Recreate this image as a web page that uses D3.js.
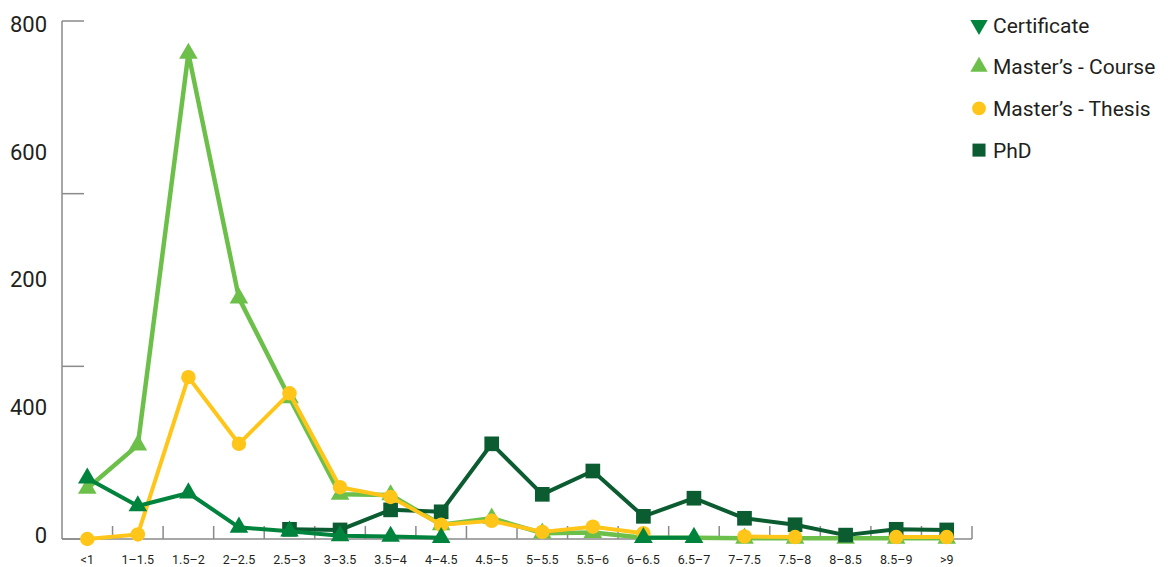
<!DOCTYPE html>
<html>
  <head>
    <meta charset="utf-8">
    <script src="https://d3js.org/d3.v7.min.js"></script>
    <style>
      body { margin: 0; background: #fff; font-family: Roboto, sans-serif; }
      .axis line, .axis path { stroke: #8a8a8a; stroke-width: 1.5px; fill: none; }
      text { fill: #231f20; }
    </style>
  </head>
  <body>
    <div id="chart"></div>
    <script>
      // categories (years)
      var categories = ["<1", "1\u20131.5", "1.5\u20132", "2\u20132.5", "2.5\u20133", "3\u20133.5", "3.5\u20134", "4\u20134.5",
        "4.5\u20135", "5\u20135.5", "5.5\u20136", "6\u20136.5", "6.5\u20137", "7\u20137.5", "7.5\u20138", "8\u20138.5", "8.5\u20139", ">9"];

      var certificate = [94, 51, 71, 18, 12, 5, 4, 2, null, null, null, 2, 2, null, null, null, null, null];
      var mastersCourse = [78, 145, 750, 372, 218, 69, 68, 22, 32, 9, 10, 2, 2, 1, 1, 1, 1, 1];
      var mastersThesis = [0, 7, 250, 147, 225, 80, 65, 22, 28, 11, 19, 9, null, 4, 3, null, 3, 3];
      var phd = [null, null, null, null, 15, 14, 45, 42, 147, 69, 105, 35, 63, 32, 22, 6, 15, 14];

      var yLabelValues = [800, 600, 400, 200, 0];
      var yLabelText = ["800", "600", "200", "400", "0"];
      var yTickValues = [0, 800 / 3, 1600 / 3, 800];

      var series = [
        { name: "Master\u2019s - Course", values: mastersCourse, color: "#6cc04a", shape: d3.symbolTriangle, width: 4.5 },
        { name: "PhD", values: phd, color: "#0b5c30", shape: d3.symbolSquare, width: 4 },
        { name: "Master\u2019s - Thesis", values: mastersThesis, color: "#ffc519", shape: d3.symbolCircle, width: 4 },
        { name: "Certificate", values: certificate, color: "#00843d", shape: d3.symbolTriangle, width: 4 }
      ];
      var legendItems = [
        { name: "Certificate", color: "#00843d", shape: d3.symbolTriangle, flip: true },
        { name: "Master\u2019s - Course", color: "#6cc04a", shape: d3.symbolTriangle },
        { name: "Master\u2019s - Thesis", color: "#ffc519", shape: d3.symbolCircle },
        { name: "PhD", color: "#0b5c30", shape: d3.symbolSquare }
      ];

      var W = 1168, H = 567;
      var svg = d3.select("#chart").append("svg").attr("width", W).attr("height", H);

      var x = d3.scaleBand().domain(categories).range([62, 972]).padding(0);
      var y = d3.scaleLinear().domain([0, 800]).range([539, 21]);
      // the printed labels sit on their own, slightly tighter spacing
      var yLab = d3.scaleLinear().domain([0, 800]).range([535, 24]);

      // y axis line + inward ticks
      var yAxis = svg.append("g").attr("class", "axis");
      yAxis.append("line").attr("x1", 62).attr("x2", 62).attr("y1", y(800)).attr("y2", y(0));
      yAxis.selectAll(".yt").data(yTickValues).enter().append("line")
        .attr("x1", 62).attr("x2", 84).attr("y1", d => y(d)).attr("y2", d => y(d));
      svg.selectAll(".ylab").data(yLabelValues).enter().append("text")
        .attr("x", 47).attr("y", d => yLab(d)).attr("dy", "0.36em")
        .attr("text-anchor", "end").style("font-size", "22px")
        .text((d, i) => yLabelText[i]);

      // x axis line + ticks at band boundaries
      var xAxis = svg.append("g").attr("class", "axis");
      xAxis.append("line").attr("x1", 62).attr("x2", 972).attr("y1", y(0)).attr("y2", y(0));
      xAxis.selectAll(".xt").data(categories).enter().append("line")
        .attr("x1", d => x(d) + x.bandwidth()).attr("x2", d => x(d) + x.bandwidth())
        .attr("y1", y(0)).attr("y2", y(0) - 13);
      svg.selectAll(".xlab").data(categories).enter().append("text")
        .attr("x", d => x(d) + x.bandwidth() / 2).attr("y", 559)
        .attr("dy", "0.36em")
        .attr("text-anchor", "middle").style("font-size", "12.5px")
        .text(d => d);

      var line = d3.line()
        .defined(d => d.v !== null)
        .x(d => x(d.c) + x.bandwidth() / 2)
        .y(d => y(d.v));

      series.forEach(function(s) {
        var pts = categories.map((c, i) => ({ c: c, v: s.values[i] }));
        var g = svg.append("g");
        g.append("path").attr("d", line(pts))
          .attr("fill", "none").attr("stroke", s.color).attr("stroke-width", s.width)
          .attr("stroke-linejoin", "round");
        var size = s.shape === d3.symbolCircle ? 165 : (s.shape === d3.symbolSquare ? 215 : 150);
        g.selectAll("path.m").data(pts.filter(d => d.v !== null)).enter().append("path")
          .attr("class", "m")
          .attr("transform", d => "translate(" + (x(d.c) + x.bandwidth() / 2) + "," + y(d.v) + ")")
          .attr("d", d3.symbol().type(s.shape).size(size))
          .attr("fill", s.color);
      });

      // legend
      var legend = svg.append("g");
      legendItems.forEach(function(d, i) {
        var cy = 25 + i * 41.7;
        var size = d.shape === d3.symbolCircle ? 150 : (d.shape === d3.symbolSquare ? 170 : 130);
        legend.append("path")
          .attr("transform", "translate(979," + cy + ")" + (d.flip ? " rotate(180)" : ""))
          .attr("d", d3.symbol().type(d.shape).size(size))
          .attr("fill", d.color);
        legend.append("text").attr("x", 993).attr("y", cy).attr("dy", "0.36em")
          .style("font-size", "21px").text(d.name);
      });
    </script>
  </body>
</html>
